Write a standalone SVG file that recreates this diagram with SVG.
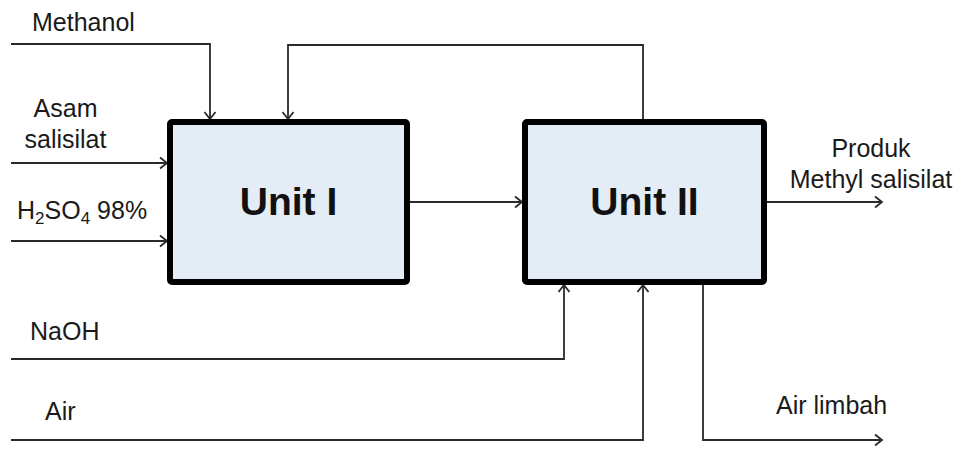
<svg xmlns="http://www.w3.org/2000/svg" width="960" height="449" viewBox="0 0 960 449">
<defs>
<style>
.lbl{font-family:"Liberation Sans",Arial,sans-serif;font-size:25px;fill:#1a1a1a}
.unit{font-family:"Liberation Sans",Arial,sans-serif;font-size:39px;font-weight:bold;fill:#111}
.box{fill:#e4ecf6;stroke:#000;stroke-width:6}
.ln{fill:none;stroke:#2a2a2a;stroke-width:1.8;marker-end:url(#arr)}
</style>
<marker id="arr" markerWidth="12" markerHeight="14" refX="10" refY="7" orient="auto" markerUnits="userSpaceOnUse">
<polyline points="3,1.5 10,7 3,12.5" fill="none" stroke="#2a2a2a" stroke-width="1.8"/>
</marker>
</defs>
<rect width="960" height="449" fill="#fff"/>
<g id="connectors">
<polyline class="ln" points="11,44 210,44 210,119"/>
<polyline class="ln" points="643,119 643,45 288,45 288,119"/>
<polyline class="ln" points="11,163 167,163"/>
<polyline class="ln" points="11,241 167,241"/>
<polyline class="ln" points="410,202 522,202"/>
<polyline class="ln" points="767,202 882,202"/>
<polyline class="ln" points="11,359 564,359 564,285"/>
<polyline class="ln" points="11,440 643,440 643,285"/>
<polyline class="ln" points="703,285 703,440 882,440"/>
</g>
<g id="unit1">
<rect class="box" x="170" y="122" width="237" height="160" rx="2"/>
<text class="unit" x="288.5" y="215" text-anchor="middle">Unit I</text>
</g>
<g id="unit2">
<rect class="box" x="525" y="122" width="239" height="160" rx="2"/>
<text class="unit" x="644.5" y="215" text-anchor="middle">Unit II</text>
</g>
<g id="labels">
<text class="lbl" x="32" y="31">Methanol</text>
<text class="lbl" x="65.5" y="117" text-anchor="middle">Asam</text>
<text class="lbl" x="65.5" y="148" text-anchor="middle">salisilat</text>
<text class="lbl" x="17" y="219">H<tspan font-size="17" dy="5">2</tspan><tspan dy="-5">SO</tspan><tspan font-size="17" dy="5">4</tspan><tspan dy="-5"> 98%</tspan></text>
<text class="lbl" x="30" y="340">NaOH</text>
<text class="lbl" x="45" y="420">Air</text>
<text class="lbl" x="871" y="157" text-anchor="middle">Produk</text>
<text class="lbl" x="871" y="188" text-anchor="middle">Methyl salisilat</text>
<text class="lbl" x="776" y="414">Air limbah</text>
</g>
</svg>
